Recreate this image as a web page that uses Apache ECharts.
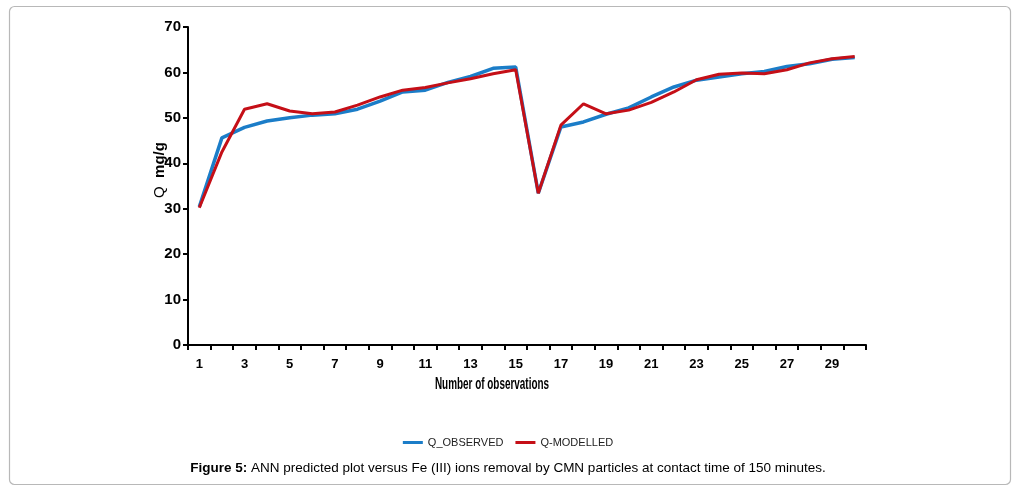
<!DOCTYPE html>
<html><head><meta charset="utf-8">
<script src="https://cdn.jsdelivr.net/npm/echarts@6/dist/echarts.min.js"></script>
<style>html,body{margin:0;padding:0;background:#fff;}#c{width:1016px;height:494px;}</style>
</head><body><div id="c"></div>
<script>
var categories = ['1','2','3','4','5','6','7','8','9','10','11','12','13','14','15','16','17','18','19','20','21','22','23','24','25','26','27','28','29','30'];
var observed = [30.4,45.6,47.9,49.3,50.0,50.6,50.9,51.9,53.7,55.7,56.1,57.8,59.1,60.9,61.2,33.4,48.0,49.1,50.8,52.2,54.6,56.8,58.3,59.0,59.7,60.2,61.3,61.9,62.9,63.3];
var modelled = [30.2,42.5,51.9,53.1,51.5,50.9,51.3,52.8,54.6,56.1,56.7,57.7,58.6,59.7,60.6,33.4,48.4,53.1,50.9,51.7,53.4,55.7,58.4,59.6,59.9,59.7,60.6,62.1,63.0,63.5];
var yTicks = {min:0, max:70, interval:10};

var chart = echarts.init(document.getElementById('c'));
var sans = '"Liberation Sans",Arial,sans-serif';
chart.setOption({
  animation:false,
  backgroundColor:'#fff',
  grid:{left:188, right:150, top:27, bottom:149, containLabel:false},
  legend:{
    data:['Q_OBSERVED','Q-MODELLED'],
    left:'center', top:432, itemWidth:20, itemHeight:3, itemGap:12,
    icon:'rect',
    textStyle:{fontFamily:sans, fontSize:11, color:'#222'}
  },
  xAxis:{
    type:'category', data:categories, boundaryGap:true,
    axisLine:{lineStyle:{color:'#000', width:2}},
    axisTick:{show:true, alignWithLabel:false, interval:0, length:5, lineStyle:{color:'#000', width:2}},
    axisLabel:{interval:1, margin:13, fontFamily:sans, fontWeight:'bold', fontSize:13, color:'#000'},
    splitLine:{show:false}
  },
  yAxis:{
    type:'value', min:yTicks.min, max:yTicks.max, interval:yTicks.interval,
    axisLine:{show:true, lineStyle:{color:'#000', width:2}},
    axisTick:{show:true, length:5, lineStyle:{color:'#000', width:2}},
    axisLabel:{margin:7, fontFamily:sans, fontWeight:'bold', fontSize:15, color:'#000'},
    splitLine:{show:false}
  },
  graphic:[
    {type:'rect', shape:{x:9.5, y:6.5, width:1001, height:478, r:5}, style:{fill:'none', stroke:'#b8b8b8', lineWidth:1.2}, silent:true},
    {type:'text', x:492, y:385, scaleX:0.62, style:{text:'Number of observations', font:'bold 16px "Liberation Sans",Arial,sans-serif', fill:'#000', align:'center', verticalAlign:'middle'}},
    {type:'text', x:160, y:170, rotation:Math.PI/2, style:{rich:{q:{font:'15px "Liberation Sans",sans-serif', fill:'#000'}, m:{font:'bold 15px "Liberation Sans",sans-serif', fill:'#000'}}, text:'{q|Q}{m|  mg/g}', align:'center', verticalAlign:'middle'}},
    {type:'text', left:'center', top:461, style:{rich:{b:{font:'bold 13.5px "Liberation Sans",sans-serif', fill:'#000'}, n:{font:'13.5px "Liberation Sans",sans-serif', fill:'#000'}}, text:'{b|Figure 5:}{n| ANN predicted plot versus Fe (III) ions removal by CMN particles at contact time of 150 minutes.}'}}
  ],
  series:[
    {name:'Q_OBSERVED', type:'line', data:observed, showSymbol:false, symbol:'none', lineStyle:{color:'#1b7dc8', width:3.5}, itemStyle:{color:'#1b7dc8'}},
    {name:'Q-MODELLED', type:'line', data:modelled, showSymbol:false, symbol:'none', lineStyle:{color:'#c50f17', width:3}, itemStyle:{color:'#c50f17'}}
  ]
});
</script></body></html>
